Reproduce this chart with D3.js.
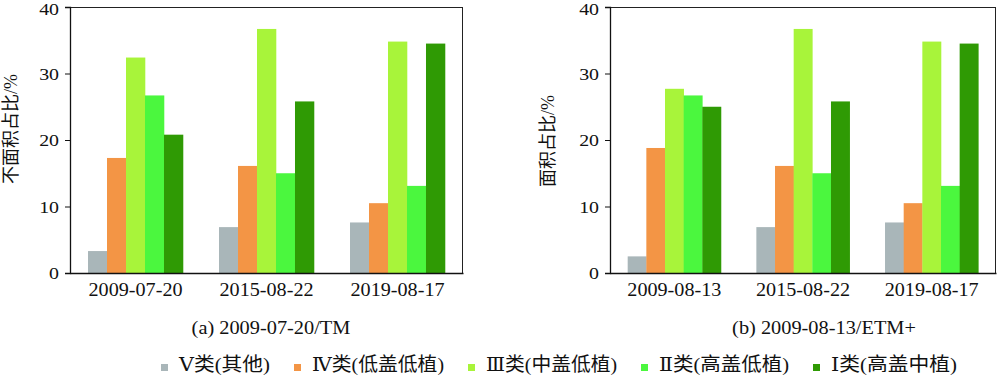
<!DOCTYPE html>
<html><head><meta charset="utf-8">
<script src="https://cdn.jsdelivr.net/npm/d3@7"></script>
<style>
body{margin:0;background:#fff;}
svg text{font-family:"Liberation Serif","Times New Roman","Noto Sans CJK SC",serif;fill:#111;}
svg text.leg{font-family:"Liberation Serif","DejaVu Serif","Noto Sans CJK SC",serif;}
</style></head><body>
<svg id="c" width="1000" height="377"></svg>
<script>
const series = ["Ⅴ类(其他)","Ⅳ类(低盖低植)","Ⅲ类(中盖低植)","Ⅱ类(高盖低植)","Ⅰ类(高盖中植)"];
const colors = ["#a9b6b9","#f39545","#a8f43a","#4bf73e","#2f9a04"];
const datesA = ["2009-07-20","2015-08-22","2019-08-17"];
const datesB = ["2009-08-13","2015-08-22","2019-08-17"];
// values per date, in series order (Ⅴ, Ⅳ, Ⅲ, Ⅱ, Ⅰ)
const valuesA = [[3.3,17.3,32.4,26.7,20.8],[6.9,16.1,36.7,15.0,25.8],[7.6,10.5,34.8,13.1,34.5]];
const valuesB = [[2.5,18.8,27.7,26.7,25.0],[6.9,16.1,36.7,15.0,25.8],[7.6,10.5,34.8,13.1,34.5]];
const yTicks = [0,10,20,30,40];
const yTitles = ["不面积占比/%","面积占比/%"];
const captions = ["(a) 2009-07-20/TM","(b) 2009-08-13/ETM+"];

const svg = d3.select("#c");
function stretch(sel,k){sel.each(function(){const L=this.getComputedTextLength();this.setAttribute("textLength",L*k);this.setAttribute("lengthAdjust","spacingAndGlyphs");});}

function panel(x0,x1,dates,values,yTitle,titleX,titleY,caption,capX){
  const y = d3.scaleLinear().domain([0,40]).range([273,7]);
  const x = d3.scaleBand().domain(dates).range([x0,x1]).paddingInner(0.275).paddingOuter(0.1375);
  const xs = d3.scaleBand().domain(series).range([0,x.bandwidth()]);
  const g = svg.append("g");
  dates.forEach((d,i)=>{
    g.selectAll(null).data(values[i]).enter().append("rect")
      .attr("x",(v,j)=>x(d)+xs(series[j]))
      .attr("width",xs.bandwidth()+0.3)
      .attr("y",v=>y(v)).attr("height",v=>y(0)-y(v))
      .attr("fill",(v,j)=>colors[j]);
  });
  g.append("line").attr("x1",x0).attr("x2",x1).attr("y1",7.5).attr("y2",7.5).attr("stroke","#222").attr("stroke-width",1);
  g.append("line").attr("x1",x1-0.5).attr("x2",x1-0.5).attr("y1",7).attr("y2",273).attr("stroke","#222").attr("stroke-width",1);
  const ya = g.append("g").attr("transform",`translate(${x0},0)`)
    .call(d3.axisLeft(y).tickValues(yTicks).tickSize(5).tickPadding(6));
  ya.select(".domain").attr("stroke","#111").attr("stroke-width",1.3);
  ya.selectAll("line").attr("stroke","#111");
  ya.selectAll("text").attr("font-size",17).attr("dy",d=>d===40?"0.46em":"0.34em").attr("fill","#111").call(stretch,1.17);
  const xa = g.append("g").attr("transform",`translate(0,273)`)
    .call(d3.axisBottom(x).tickSize(0).tickPadding(10).tickSizeOuter(0));
  xa.select(".domain").attr("stroke","#111").attr("stroke-width",1.3);
  xa.selectAll("text").attr("font-size",18).attr("fill","#111").call(stretch,1.12);
  g.append("text").attr("transform",`translate(${titleX},${titleY}) rotate(-90)`)
    .attr("text-anchor","middle").attr("dominant-baseline","central")
    .attr("font-size",18).text(yTitle);
  g.append("text").attr("x",capX).attr("y",334).attr("text-anchor","middle")
    .attr("font-size",18).text(caption).call(stretch,1.13);
}
panel(70,463,datesA,valuesA,yTitles[0],11,129,captions[0],271);
panel(610,996,datesB,valuesB,yTitles[1],548,141,captions[1],824);

const legendWidths = [91,132,131,130,126];
let lx = 161;
const lg = svg.append("g");
series.forEach((s,i)=>{
  lg.append("rect").attr("x",lx).attr("y",364).attr("width",7).attr("height",7).attr("fill",colors[i]);
  lg.append("text").attr("class","leg").attr("x",lx+18).attr("y",371).attr("font-size",19).text(s)
    .attr("textLength",legendWidths[i]).attr("lengthAdjust","spacingAndGlyphs");
  lx += 18 + legendWidths[i] + 24;
});
</script></body></html>
